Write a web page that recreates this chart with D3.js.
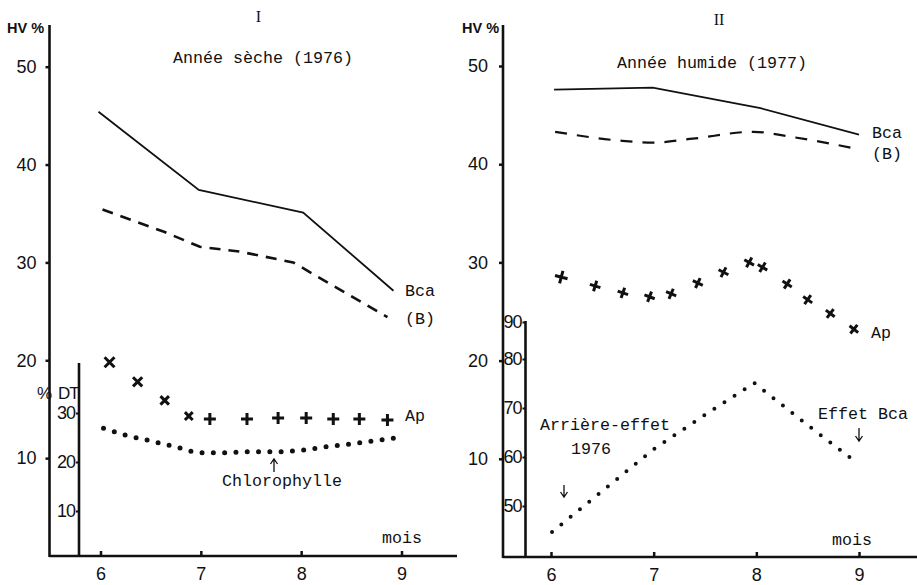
<!DOCTYPE html>
<html><head><meta charset="utf-8">
<script src="https://cdn.jsdelivr.net/npm/d3@7"></script>
<style>
html,body{margin:0;padding:0;background:#fff;}
svg{display:block;}
.mono{font-family:"Liberation Mono","DejaVu Sans Mono",monospace;font-size:16.67px;fill:#111;}
.sans{font-family:"Liberation Sans",Arial,sans-serif;fill:#111;}
</style></head><body>
<svg id="c" width="917" height="585"></svg>
<script>
// ---------- data ----------
const monthTicks = [6, 7, 8, 9];
const hvTicks = [10, 20, 30, 40, 50];
const dtTicksI = [10, 20, 30];
const dtTicksII = [50, 60, 70, 80, 90];

// Panel I — Année sèche (1976)
const bcaI_month = [5.98, 6.98, 8.02, 8.92];
const bcaI_hv    = [45.4, 37.4, 35.1, 27.1];
const bI_month   = [6.02, 6.64, 6.99, 7.39, 7.92, 8.86];
const bI_hv      = [35.4, 33.1, 31.6, 31.1, 30.0, 24.4];
const apI_month  = [6.09, 6.37, 6.64, 6.88, 7.09, 7.46, 7.77, 8.05, 8.32, 8.58, 8.86];
const apI_hv     = [19.8, 17.8, 15.9, 14.3, 14.0, 14.0, 14.1, 14.1, 14.0, 14.0, 13.9];
const chloI_month = [6.03, 6.25, 6.5, 6.75, 7.0, 7.25, 7.5, 7.75, 8.0, 8.25, 8.5, 8.75, 8.97];
const chloI_dt    = [26.9, 25.5, 24.3, 23.1, 21.9, 21.9, 22.1, 22.1, 22.4, 23.1, 23.7, 24.4, 25.0];

// Panel II — Année humide (1977)
const bcaII_month = [6.03, 6.99, 8.04, 9.0];
const bcaII_hv    = [47.6, 47.8, 45.7, 43.0];
const bII_month   = [6.04, 6.67, 6.99, 7.38, 7.97, 8.33, 9.01];
const bII_hv      = [43.3, 42.4, 42.2, 42.6, 43.3, 42.8, 41.5];
const apII_month  = [6.10, 6.43, 6.70, 6.96, 7.17, 7.43, 7.68, 7.93, 8.06, 8.30, 8.50, 8.72, 8.95];
const apII_hv     = [28.5, 27.6, 26.9, 26.5, 26.8, 27.9, 29.0, 30.0, 29.5, 27.8, 26.2, 24.8, 23.2];
const chloII_month = [6.01, 7.0, 7.5, 7.98, 8.5, 8.97];
const chloII_dt    = [44.7, 61.6, 68.6, 75.1, 66.5, 59.0];

// ---------- drawing ----------
const svg = d3.select("#c");
const INK = "#111";
const zip = (a, b) => a.map((v, i) => [v, b[i]]);

function drawPanel(p) {
  const g = svg.append("g");
  const x = d3.scaleLinear().domain([6, 9]).range(p.xr);
  const y = d3.scaleLinear().domain([0, 50]).range(p.yr);
  const yd = d3.scaleLinear().domain(p.dtDomain).range(p.dtRange);

  // main axis lines
  g.append("line").attr("x1", p.ax).attr("x2", p.ax).attr("y1", p.axTop).attr("y2", y(0) + 1)
    .attr("stroke", INK).attr("stroke-width", 2.6);
  g.append("line").attr("x1", p.ax).attr("x2", p.xEnd).attr("y1", y(0)).attr("y2", y(0))
    .attr("stroke", INK).attr("stroke-width", 2.6);
  // secondary DT axis line
  g.append("line").attr("x1", p.dtx).attr("x2", p.dtx).attr("y1", p.dtTop).attr("y2", y(0))
    .attr("stroke", INK).attr("stroke-width", 2.6);

  // HV axis ticks
  const ay = g.append("g").attr("transform", `translate(${p.ax},0)`)
    .call(d3.axisLeft(y).tickValues(hvTicks).tickSize(4).tickPadding(p.hvPad).tickFormat(d3.format("d")));
  ay.select(".domain").remove();
  ay.selectAll("line").attr("stroke", INK).attr("stroke-width", 2.5);
  ay.selectAll("text").attr("class", "sans").style("font-size", "18px").attr("fill", INK).attr("font-family", null);

  // DT axis ticks
  const ad = g.append("g").attr("transform", `translate(${p.dtx},0)`)
    .call(d3.axisLeft(yd).tickValues(p.dtTicks).tickSize(3).tickPadding(1).tickFormat(d3.format("d")));
  ad.select(".domain").remove();
  ad.selectAll("line").attr("stroke", INK).attr("stroke-width", 2);
  ad.selectAll("text").attr("class", "sans").style("font-size", "18px").style("letter-spacing", "-1px").attr("fill", INK).attr("font-family", null);

  // month axis
  const ax = g.append("g").attr("transform", `translate(0,${y(0)})`)
    .call(d3.axisBottom(x).tickValues(monthTicks).tickSizeInner(-5).tickSizeOuter(0).tickPadding(11.5).tickFormat(d3.format("d")));
  ax.select(".domain").remove();
  ax.selectAll("line").attr("stroke", INK).attr("stroke-width", 2.5);
  ax.selectAll("text").attr("class", "sans").style("font-size", "18px").attr("fill", INK).attr("font-family", null);

  // Bca solid line
  g.append("path").datum(zip(p.bca[0], p.bca[1]))
    .attr("d", d3.line().x(d => x(d[0])).y(d => y(d[1])))
    .attr("fill", "none").attr("stroke", INK).attr("stroke-width", 1.8);
  // (B) dashed line
  g.append("path").datum(zip(p.b[0], p.b[1]))
    .attr("d", d3.line().curve(p.bCurve).x(d => x(d[0])).y(d => y(d[1])))
    .attr("fill", "none").attr("stroke", INK).attr("stroke-width", p.bWidth)
    .attr("stroke-dasharray", p.bDash);
  // dotted line (DT scale)
  g.append("path").datum(zip(p.chl[0], p.chl[1]))
    .attr("d", d3.line().curve(p.chlCurve).x(d => x(d[0])).y(d => yd(d[1])))
    .attr("fill", "none").attr("stroke", INK).attr("stroke-width", p.dotW)
    .attr("stroke-linecap", "round").attr("stroke-dasharray", p.dotDash);
  // Ap crosses
  g.selectAll(null).data(zip(p.ap[0], p.ap[1])).join("path")
    .attr("d", (d, i) => { const s = p.mSize(i); return `M${-s},0L${s},0M0,${-s}L0,${s}`; })
    .attr("transform", (d, i) => `translate(${x(d[0])},${y(d[1])}) rotate(${p.markAngle(i)})`)
    .attr("fill", "none").attr("stroke", INK).attr("stroke-width", p.mW).attr("stroke-linecap", "butt");

  // texts
  g.append("text").attr("class", "sans").attr("x", p.hvLabel[0]).attr("y", p.hvLabel[1])
    .style("font-size", "14.5px").style("font-weight", "bold").text("HV %");
  g.append("text").attr("x", p.roman[0]).attr("y", p.roman[1]).attr("text-anchor", "middle")
    .style("font-family", "'Liberation Serif',serif").style("font-size", "16px").attr("fill", INK).text(p.romanText);
  p.labels.forEach(l => {
    g.append("text").attr("class", "mono").attr("x", l[0]).attr("y", l[1]).text(l[2]);
  });
  p.arrows.forEach(a => {
    const [ax0, ay0, ay1] = a; // tail y0 -> head y1
    const dir = ay1 < ay0 ? 1 : -1;
    g.append("path")
      .attr("d", `M${ax0},${ay0}L${ax0},${ay1}M${ax0 - 3.5},${ay1 + dir * 5}L${ax0},${ay1}L${ax0 + 3.5},${ay1 + dir * 5}`)
      .attr("fill", "none").attr("stroke", INK).attr("stroke-width", 1.3);
  });
  return g;
}

// Panel I
const gI = drawPanel({
  xr: [100.5, 401.5], yr: [556, 66.7], ax: 49.5, axTop: 25, xEnd: 457, hvPad: 9,
  dtx: 79, dtTop: 363, dtDomain: [0, 40], dtRange: [560, 364], dtTicks: dtTicksI,
  bca: [bcaI_month, bcaI_hv], b: [bI_month, bI_hv], bCurve: d3.curveLinear, bWidth: 2.6, bDash: "11,8",
  chl: [chloI_month, chloI_dt], chlCurve: d3.curveMonotoneX, dotW: 5, dotDash: "0,11.3",
  ap: [apI_month, apI_hv], mSize: i => (i < 4 ? 7 - i * 0.5 : 6), mW: 3, markAngle: i => (i < 4 ? 45 : 0),
  hvLabel: [7, 33], roman: [258.5, 22], romanText: "I",
  labels: [[173, 63, "Année sèche (1976)"], [405, 296, "Bca"], [405, 324, "(B)"], [405, 421, "Ap"],
           [222, 486, "Chlorophylle"], [382, 542.5, "mois"]],
  arrows: [[274, 472, 459]]
});
gI.append("text").attr("class", "sans").attr("x", 37).attr("y", 399).style("font-size", "17px").text("%");
gI.append("text").attr("class", "sans").attr("x", 58).attr("y", 399).style("font-size", "17px").style("letter-spacing", "-1px").text("DT");

// Panel II
drawPanel({
  xr: [551, 859], yr: [557, 66], ax: 503, axTop: 25, xEnd: 917, hvPad: 11,
  dtx: 525.5, dtTop: 321, dtDomain: [40, 80, 90], dtRange: [555, 359, 322], dtTicks: dtTicksII,
  bca: [bcaII_month, bcaII_hv], b: [bII_month, bII_hv], bCurve: d3.curveMonotoneX, bWidth: 2.2, bDash: "12,10",
  chl: [chloII_month, chloII_dt], chlCurve: d3.curveLinear, dotW: 4, dotDash: "0,12",
  ap: [apII_month, apII_hv], mSize: i => (i === 0 ? 6.5 : 5.5), mW: 3, markAngle: i => 15 + i * 2,
  hvLabel: [462, 33], roman: [719, 25], romanText: "II",
  labels: [[617, 68, "Année humide (1977)"], [872, 138, "Bca"], [872, 158.5, "(B)"], [871, 338, "Ap"],
           [818, 419, "Effet Bca"], [540, 430, "Arrière-effet"], [571, 454, "1976"], [832, 545, "mois"]],
  arrows: [[859, 428, 441], [564, 485, 497]]
});
</script>
</body></html>
